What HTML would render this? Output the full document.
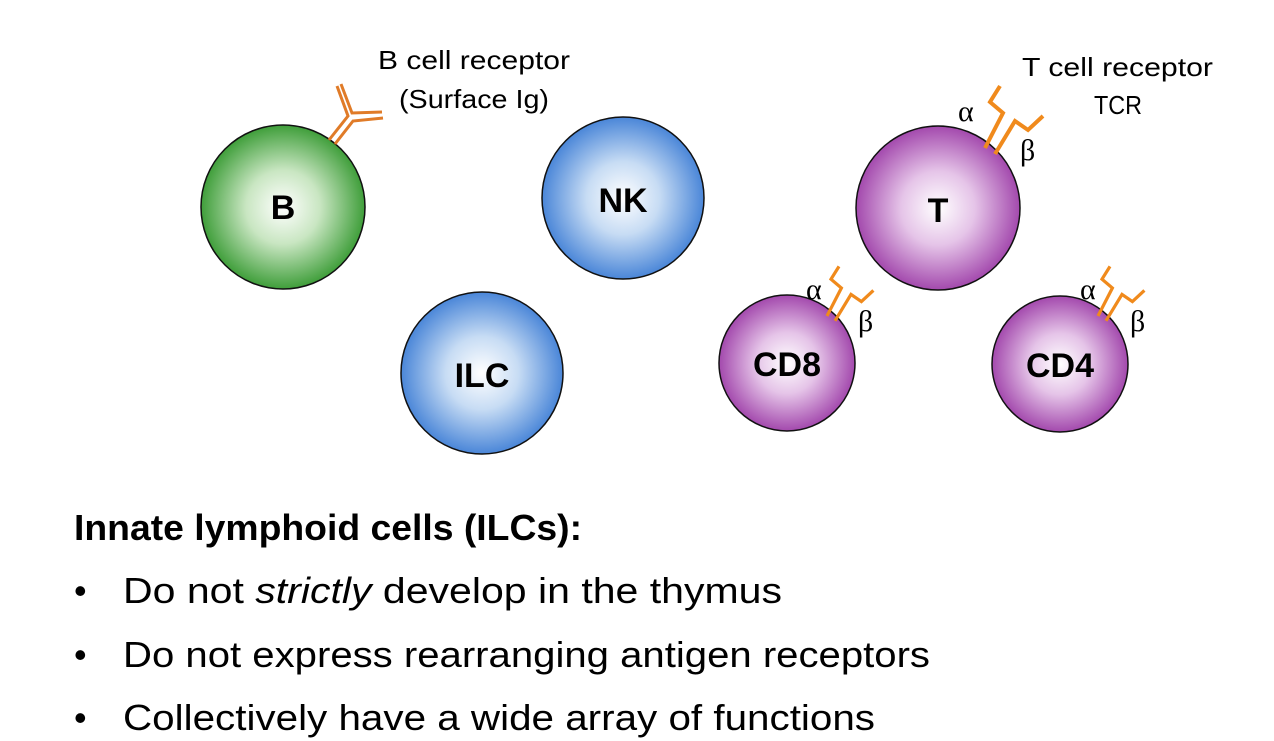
<!DOCTYPE html>
<html><head><style>
html,body{margin:0;padding:0;background:#fff;}
svg{display:block;font-family:"Liberation Sans","DejaVu Sans",sans-serif;}
</style></head><body>
<svg width="1274" height="741" viewBox="0 0 1274 741" xmlns="http://www.w3.org/2000/svg">
<defs>
<radialGradient id="g" cx="50%" cy="50%" r="50%"><stop offset="0" stop-color="#ffffff"/><stop offset="0.45" stop-color="#c9e6c2"/><stop offset="1" stop-color="#3f9e3a"/></radialGradient>
<radialGradient id="b" cx="50%" cy="50%" r="50%"><stop offset="0" stop-color="#ffffff"/><stop offset="0.45" stop-color="#c7dcf4"/><stop offset="1" stop-color="#4a86d8"/></radialGradient>
<radialGradient id="p" cx="50%" cy="50%" r="50%"><stop offset="0" stop-color="#ffffff"/><stop offset="0.45" stop-color="#e5c4e8"/><stop offset="1" stop-color="#a349ad"/></radialGradient>
<g id="tcr" fill="none" stroke="#f08a1c" stroke-width="4" stroke-linejoin="miter">
<path d="M0,0 L18,-35 L5,-46 L15,-62"/>
<path d="M10,6 L30,-27 L43,-18 L58,-32"/>
</g>
</defs>
<g stroke="#111" stroke-width="1.5">
<circle cx="283" cy="207" r="82" fill="url(#g)"/>
<circle cx="623" cy="198" r="81" fill="url(#b)"/>
<circle cx="482" cy="373" r="81" fill="url(#b)"/>
<circle cx="938" cy="208" r="82" fill="url(#p)"/>
<circle cx="787" cy="363" r="68" fill="url(#p)"/>
<circle cx="1060" cy="364" r="68" fill="url(#p)"/>
</g>
<g stroke="#e07b28" stroke-width="3" fill="none">
<path d="M329,140 L348,116 L337,86"/>
<path d="M335,144 L353,121 L383,118"/>
<path d="M341,84 L352,113 L382,112"/>
</g>
<use href="#tcr" transform="translate(985,148)"/>
<use href="#tcr" transform="translate(827,316) scale(0.8)"/>
<use href="#tcr" transform="translate(1098,316) scale(0.8)"/>
<g font-weight="bold" font-size="34" text-anchor="middle" fill="#000">
<text x="283" y="219">B</text>
<text x="623" y="212">NK</text>
<text x="482" y="387">ILC</text>
<text x="938" y="222">T</text>
<text x="787" y="376">CD8</text>
<text x="1060" y="377">CD4</text>
</g>
<g font-size="26" fill="#000" lengthAdjust="spacingAndGlyphs">
<text x="378" y="69" textLength="192" lengthAdjust="spacingAndGlyphs">B cell receptor</text>
<text x="399" y="108" textLength="150" lengthAdjust="spacingAndGlyphs">(Surface Ig)</text>
<text x="1022" y="76" textLength="191" lengthAdjust="spacingAndGlyphs">T cell receptor</text>
<text x="1094" y="114" textLength="48" lengthAdjust="spacingAndGlyphs">TCR</text>
</g>
<g font-family="Liberation Serif,serif" font-size="30" fill="#000">
<text x="958" y="121">α</text><text x="1020" y="160">β</text>
<text x="806" y="299">α</text><text x="858" y="331">β</text>
<text x="1080" y="299">α</text><text x="1130" y="331">β</text>
</g>
<g font-size="36" fill="#000">
<text x="74" y="540" font-weight="bold" textLength="508" lengthAdjust="spacingAndGlyphs">Innate lymphoid cells (ILCs):</text>
<text x="74" y="603">•</text><text x="123" y="603" textLength="659" lengthAdjust="spacingAndGlyphs">Do not <tspan font-style="italic">strictly</tspan> develop in the thymus</text>
<text x="74" y="667">•</text><text x="123" y="667" textLength="807" lengthAdjust="spacingAndGlyphs">Do not express rearranging antigen receptors</text>
<text x="74" y="730">•</text><text x="123" y="730" textLength="752" lengthAdjust="spacingAndGlyphs">Collectively have a wide array of functions</text>
</g>
</svg>
</body></html>
